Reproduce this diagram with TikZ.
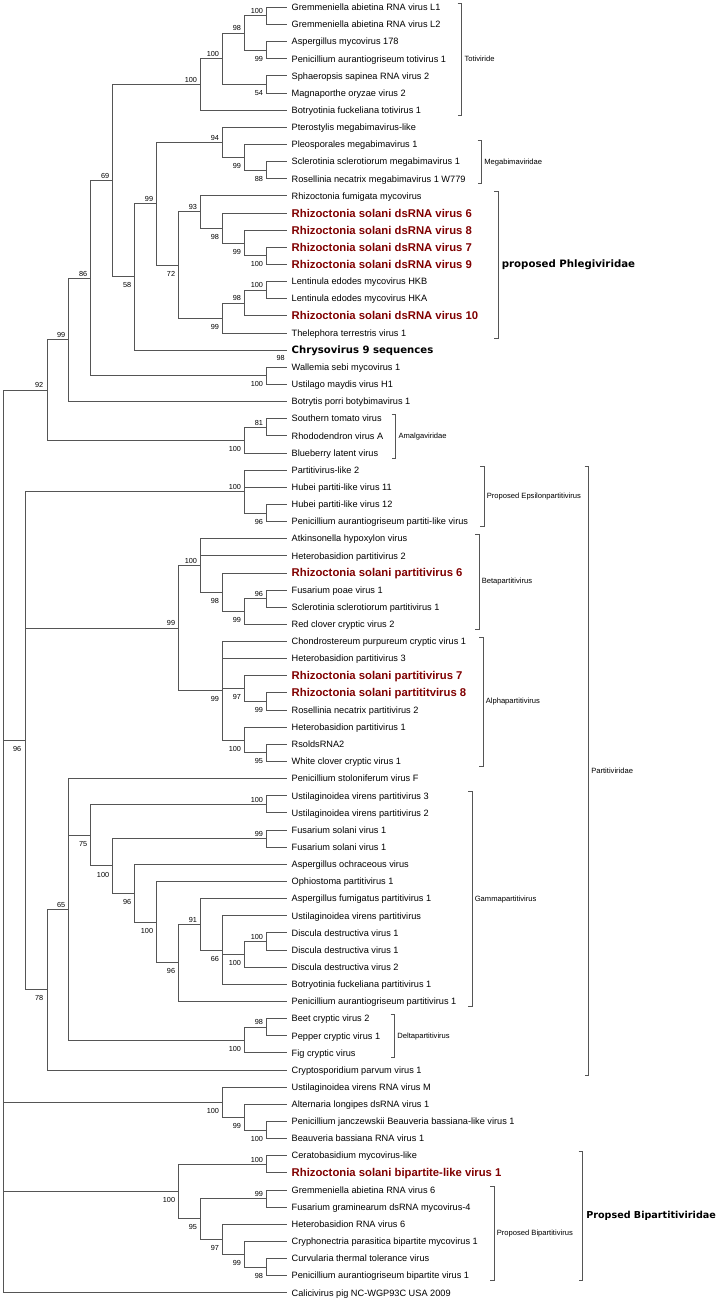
\documentclass[tikz,border=0pt]{standalone}
\usepackage{fontspec}
\setmainfont{Liberation Sans}
\newfontfamily\dvb{DejaVu Sans}
\usetikzlibrary{calc}
\definecolor{rsred}{RGB}{128,0,0}
\definecolor{treeg}{RGB}{85,85,85}
\tikzset{
  branch/.style={draw=treeg, line width=0.85pt},
  brk/.style={draw=treeg, line width=0.85pt},
  leafs/.style={anchor=west, inner xsep=4.4pt, inner ysep=0pt, outer sep=0pt,
    font=\fontsize{9.2}{10}\selectfont, text height=6.6pt, text depth=0pt},
  hl/.style={text=rsred, font=\fontsize{11.3}{12}\selectfont\bfseries, text height=8.1pt},
  chry/.style={font=\dvb\bfseries\fontsize{10.1}{11}\selectfont, text height=7.4pt},
  bsu/.style={anchor=base east, inner sep=0pt, font=\fontsize{7.3}{8}\selectfont, xshift=-3.5pt, yshift=2.2pt},
  bsd/.style={anchor=base east, inner sep=0pt, font=\fontsize{7.3}{8}\selectfont, xshift=-3.5pt, yshift=-11.1pt},
  grp/.style={anchor=west, inner sep=0pt, font=\fontsize{7.6}{8}\selectfont},
  fam/.style={anchor=west, inner sep=0pt, xshift=0.8pt, font=\dvb\bfseries\fontsize{10.2}{11}\selectfont},
  famb/.style={fam, font=\dvb\bfseries\fontsize{9.6}{11}\selectfont}
}
\newcommand\leaf[3]{\node[leafs,#2] (L#1) at (287.3,{7.3+17.14*(#1-1)}) {#3};}
\newcommand\clade[4]{%
  \path ($(#3)!0.5!(#4)$) coordinate (m#1);
  \coordinate (x#1) at ({3+21.97*#2},0);
  \coordinate (#1) at (x#1 |- m#1);}
\newcommand\kids[2]{\foreach \kid in {#2}{\draw[branch] (#1) |- (\kid);}}
\newcommand\bu[2]{\node[bsu] (b#1) at (#1) {#2};}
\newcommand\bd[2]{\node[bsd] (b#1) at (#1) {#2};}
\newcommand\brkt[6]{%
  \coordinate (bx#1) at (#2,0);
  \coordinate (bt#1) at ($(bx#1 |- #3.west)+(0,-4)$);
  \coordinate (bb#1) at ($(bx#1 |- #4.west)+(0,5)$);
  \draw[brk] ($(bt#1)+(-4,0)$) -- (bt#1) -- (bb#1) -- ($(bb#1)+(-4,0)$);
  \node[#5] (g#1) at ($(bt#1)!0.5!(bb#1)+(2.6,0)$) {#6};}
\begin{document}
\begin{tikzpicture}[x=1pt,y=-1pt]
\useasboundingbox (0,0) rectangle (727,1303);
% leaves
\leaf{1}{}{Gremmeniella abietina RNA virus L1}
\leaf{2}{}{Gremmeniella abietina RNA virus L2}
\leaf{3}{}{Aspergillus mycovirus 178}
\leaf{4}{}{Penicillium aurantiogriseum totivirus 1}
\leaf{5}{}{Sphaeropsis sapinea RNA virus 2}
\leaf{6}{}{Magnaporthe oryzae virus 2}
\leaf{7}{}{Botryotinia fuckeliana totivirus 1}
\leaf{8}{}{Pterostylis megabimavirus-like}
\leaf{9}{}{Pleosporales megabimavirus 1}
\leaf{10}{}{Sclerotinia sclerotiorum megabimavirus 1}
\leaf{11}{}{Rosellinia necatrix megabimavirus 1 W779}
\leaf{12}{}{Rhizoctonia fumigata mycovirus}
\leaf{13}{hl}{Rhizoctonia solani dsRNA virus 6}
\leaf{14}{hl}{Rhizoctonia solani dsRNA virus 8}
\leaf{15}{hl}{Rhizoctonia solani dsRNA virus 7}
\leaf{16}{hl}{Rhizoctonia solani dsRNA virus 9}
\leaf{17}{}{Lentinula edodes mycovirus HKB}
\leaf{18}{}{Lentinula edodes mycovirus HKA}
\leaf{19}{hl}{Rhizoctonia solani dsRNA virus 10}
\leaf{20}{}{Thelephora terrestris virus 1}
\leaf{21}{chry}{Chrysovirus 9 sequences}
\leaf{22}{}{Wallemia sebi mycovirus 1}
\leaf{23}{}{Ustilago maydis virus H1}
\leaf{24}{}{Botrytis porri botybimavirus 1}
\leaf{25}{}{Southern tomato virus}
\leaf{26}{}{Rhododendron virus A}
\leaf{27}{}{Blueberry latent virus}
\leaf{28}{}{Partitivirus-like 2}
\leaf{29}{}{Hubei partiti-like virus 11}
\leaf{30}{}{Hubei partiti-like virus 12}
\leaf{31}{}{Penicillium aurantiogriseum partiti-like virus}
\leaf{32}{}{Atkinsonella hypoxylon virus}
\leaf{33}{}{Heterobasidion partitivirus 2}
\leaf{34}{hl}{Rhizoctonia solani partitivirus 6}
\leaf{35}{}{Fusarium poae virus 1}
\leaf{36}{}{Sclerotinia sclerotiorum partitivirus 1}
\leaf{37}{}{Red clover cryptic virus 2}
\leaf{38}{}{Chondrostereum purpureum cryptic virus 1}
\leaf{39}{}{Heterobasidion partitivirus 3}
\leaf{40}{hl}{Rhizoctonia solani partitivirus 7}
\leaf{41}{hl}{Rhizoctonia solani partititvirus 8}
\leaf{42}{}{Rosellinia necatrix partitivirus 2}
\leaf{43}{}{Heterobasidion partitivirus 1}
\leaf{44}{}{RsoldsRNA2}
\leaf{45}{}{White clover cryptic virus 1}
\leaf{46}{}{Penicillium stoloniferum virus F}
\leaf{47}{}{Ustilaginoidea virens partitivirus 3}
\leaf{48}{}{Ustilaginoidea virens partitivirus 2}
\leaf{49}{}{Fusarium solani virus 1}
\leaf{50}{}{Fusarium solani virus 1}
\leaf{51}{}{Aspergillus ochraceous virus}
\leaf{52}{}{Ophiostoma partitivirus 1}
\leaf{53}{}{Aspergillus fumigatus partitivirus 1}
\leaf{54}{}{Ustilaginoidea virens partitivirus}
\leaf{55}{}{Discula destructiva virus 1}
\leaf{56}{}{Discula destructiva virus 1}
\leaf{57}{}{Discula destructiva virus 2}
\leaf{58}{}{Botryotinia fuckeliana partitivirus 1}
\leaf{59}{}{Penicillium aurantiogriseum partitivirus 1}
\leaf{60}{}{Beet cryptic virus 2}
\leaf{61}{}{Pepper cryptic virus 1}
\leaf{62}{}{Fig cryptic virus}
\leaf{63}{}{Cryptosporidium parvum virus 1}
\leaf{64}{}{Ustilaginoidea virens RNA virus M}
\leaf{65}{}{Alternaria longipes dsRNA virus 1}
\leaf{66}{}{Penicillium janczewskii Beauveria bassiana-like virus 1}
\leaf{67}{}{Beauveria bassiana RNA virus 1}
\leaf{68}{}{Ceratobasidium mycovirus-like}
\leaf{69}{hl}{Rhizoctonia solani bipartite-like virus 1}
\leaf{70}{}{Gremmeniella abietina RNA virus 6}
\leaf{71}{}{Fusarium graminearum dsRNA mycovirus-4}
\leaf{72}{}{Heterobasidion RNA virus 6}
\leaf{73}{}{Cryphonectria parasitica bipartite mycovirus 1}
\leaf{74}{}{Curvularia thermal tolerance virus}
\leaf{75}{}{Penicillium aurantiogriseum bipartite virus 1}
\leaf{76}{}{Calicivirus pig NC-WGP93C USA 2009}
% Totiviridae
\clade{A1}{12}{L1}{L2}\kids{A1}{L1.west,L2.west}\bu{A1}{100}
\clade{A2}{12}{L3}{L4}\kids{A2}{L3.west,L4.west}\bd{A2}{99}
\clade{A3}{11}{A1}{A2}\kids{A3}{A1,A2}\bu{A3}{98}
\clade{A4}{12}{L5}{L6}\kids{A4}{L5.west,L6.west}\bd{A4}{54}
\clade{A5}{10}{A3}{A4}\kids{A5}{A3,A4}\bu{A5}{100}
\clade{A6}{9}{A5}{L7}\kids{A6}{A5,L7.west}\bu{A6}{100}
% Megabimaviridae
\clade{M88}{12}{L10}{L11}\kids{M88}{L10.west,L11.west}\bd{M88}{88}
\clade{M99}{11}{L9}{M88}\kids{M99}{L9.west,M88}\bd{M99}{99}
\clade{M94}{10}{L8}{M99}\kids{M94}{L8.west,M99}\bu{M94}{94}
% Phlegiviridae
\clade{P100}{12}{L15}{L16}\kids{P100}{L15.west,L16.west}\bd{P100}{100}
\clade{P99}{11}{L14}{P100}\kids{P99}{L14.west,P100}\bd{P99}{99}
\clade{P98}{10}{L13}{P99}\kids{P98}{L13.west,P99}\bd{P98}{98}
\clade{P93}{9}{L12}{P98}\kids{P93}{L12.west,P98}\bu{P93}{93}
\clade{Q100}{12}{L17}{L18}\kids{Q100}{L17.west,L18.west}\bu{Q100}{100}
\clade{Q98}{11}{Q100}{L19}\kids{Q98}{Q100,L19.west}\bu{Q98}{98}
\clade{Q99}{10}{Q98}{L20}\kids{Q99}{Q98,L20.west}\bd{Q99}{99}
\clade{P72}{8}{P93}{Q99}\kids{P72}{P93,Q99}\bd{P72}{72}
\clade{X99}{7}{M94}{P72}\kids{X99}{M94,P72}\bu{X99}{99}
\clade{N58}{6}{X99}{L21}\kids{N58}{X99,L21.west}\bd{N58}{58}
\clade{N69}{5}{A6}{N58}\kids{N69}{A6,N58}\bu{N69}{69}
\clade{NW}{12}{L22}{L23}\kids{NW}{L22.west,L23.west}\bd{NW}{100}
\node[bsu] (bW98) at ([xshift=1.2pt,yshift=4.2pt]L22.west) {98};
\clade{N86}{4}{N69}{NW}\kids{N86}{N69,NW}\bu{N86}{86}
\clade{N99}{3}{N86}{L24}\kids{N99}{N86,L24.west}\bu{N99}{99}
\clade{AM81}{12}{L25}{L26}\kids{AM81}{L25.west,L26.west}\bu{AM81}{81}
\clade{AM100}{11}{AM81}{L27}\kids{AM100}{AM81,L27.west}\bd{AM100}{100}
\clade{N92}{2}{N99}{AM100}\kids{N92}{N99,AM100}\bu{N92}{92}
% Epsilon
\clade{E96}{12}{L30}{L31}\kids{E96}{L30.west,L31.west}\bd{E96}{96}
\clade{E100}{11}{L28}{E96}\kids{E100}{L28.west,L29.west,E96}\bu{E100}{100}
% Beta
\clade{B96}{12}{L35}{L36}\kids{B96}{L35.west,L36.west}\bu{B96}{96}
\clade{B99}{11}{B96}{L37}\kids{B99}{B96,L37.west}\bd{B99}{99}
\clade{B98}{10}{L34}{B99}\kids{B98}{L34.west,B99}\bd{B98}{98}
\clade{B100}{9}{L32}{B98}\kids{B100}{L32.west,L33.west,B98}\bu{B100}{100}
% Alpha
\clade{C99}{12}{L41}{L42}\kids{C99}{L41.west,L42.west}\bd{C99}{99}
\clade{C97}{11}{L40}{C99}\kids{C97}{L40.west,C99}\bd{C97}{97}
\clade{C95}{12}{L44}{L45}\kids{C95}{L44.west,L45.west}\bd{C95}{95}
\clade{C100}{11}{L43}{C95}\kids{C100}{L43.west,C95}\bd{C100}{100}
\clade{C99a}{10}{L38}{C100}\kids{C99a}{L38.west,L39.west,C97,C100}\bd{C99a}{99}
\clade{BA99}{8}{B100}{C99a}\kids{BA99}{B100,C99a}\bu{BA99}{99}
% Gamma
\clade{G100u}{12}{L47}{L48}\kids{G100u}{L47.west,L48.west}\bu{G100u}{100}
\clade{G99}{12}{L49}{L50}\kids{G99}{L49.west,L50.west}\bu{G99}{99}
\clade{G100e}{12}{L55}{L56}\kids{G100e}{L55.west,L56.west}\bu{G100e}{100}
\clade{G100d}{11}{G100e}{L57}\kids{G100d}{G100e,L57.west}\bd{G100d}{100}
\clade{G66}{10}{L54}{L58}\kids{G66}{L54.west,G100d,L58.west}\bd{G66}{66}
\clade{G91}{9}{L53}{G66}\kids{G91}{L53.west,G66}\bu{G91}{91}
\clade{G96b}{8}{G91}{L59}\kids{G96b}{G91,L59.west}\bd{G96b}{96}
\clade{G100c}{7}{L52}{G96b}\kids{G100c}{L52.west,G96b}\bd{G100c}{100}
\clade{G96}{6}{L51}{G100c}\kids{G96}{L51.west,G100c}\bd{G96}{96}
\clade{G100b}{5}{G99}{G96}\kids{G100b}{G99,G96}\bd{G100b}{100}
\clade{G75}{4}{G100u}{G100b}\kids{G75}{G100u,G100b}\bd{G75}{75}
% Delta
\clade{D98}{12}{L60}{L61}\kids{D98}{L60.west,L61.west}\bu{D98}{98}
\clade{D100}{11}{D98}{L62}\kids{D100}{D98,L62.west}\bd{D100}{100}
\clade{N65}{3}{L46}{D100}\kids{N65}{L46.west,G75,D100}\bu{N65}{65}
\clade{N78}{2}{N65}{L63}\kids{N78}{N65,L63.west}\bd{N78}{78}
\clade{N96}{1}{E100}{N78}\kids{N96}{E100,BA99,N78}\bd{N96}{96}
% Ustilaginoidea M group
\clade{U100b}{12}{L66}{L67}\kids{U100b}{L66.west,L67.west}\bd{U100b}{100}
\clade{U99}{11}{L65}{U100b}\kids{U99}{L65.west,U100b}\bd{U99}{99}
\clade{U100}{10}{L64}{U99}\kids{U100}{L64.west,U99}\bd{U100}{100}
% Bipartitiviridae
\clade{K100}{12}{L68}{L69}\kids{K100}{L68.west,L69.west}\bu{K100}{100}
\clade{K99}{12}{L70}{L71}\kids{K99}{L70.west,L71.west}\bu{K99}{99}
\clade{K98}{12}{L74}{L75}\kids{K98}{L74.west,L75.west}\bd{K98}{98}
\clade{K99b}{11}{L73}{K98}\kids{K99b}{L73.west,K98}\bd{K99b}{99}
\clade{K97}{10}{L72}{K99b}\kids{K97}{L72.west,K99b}\bd{K97}{97}
\clade{K95}{9}{K99}{K97}\kids{K95}{K99,K97}\bd{K95}{95}
\clade{K100b}{8}{K100}{K95}\kids{K100b}{K100,K95}\bd{K100b}{100}
% root
\clade{R}{0}{N92}{L76}\kids{R}{N92,N96,U100,K100b,L76.west}
% brackets
\brkt{toti}{461.7}{L1}{L7}{grp}{Totiviride}
\brkt{mega}{481.5}{L9}{L11}{grp}{Megabimaviridae}
\brkt{phle}{498.3}{L12}{L20}{fam}{proposed Phlegiviridae}
\brkt{amal}{395.7}{L25}{L27}{grp}{Amalgaviridae}
\brkt{eps}{484}{L28}{L31}{grp}{Proposed Epsilonpartitivirus}
\brkt{beta}{479}{L32}{L37}{grp}{Betapartitivirus}
\brkt{alph}{483}{L38}{L45}{grp}{Alphapartitivirus}
\brkt{gamm}{472}{L47}{L59}{grp}{Gammapartitivirus}
\brkt{delt}{394.6}{L60}{L62}{grp}{Deltapartitivirus}
\brkt{part}{588.5}{L28}{L63}{grp}{Partitiviridae}
\brkt{pbip}{494}{L70}{L75}{grp}{Proposed Bipartitivirus}
\brkt{bipf}{582.7}{L68}{L75}{famb}{Propsed Bipartitiviridae}
\end{tikzpicture}
\end{document}
